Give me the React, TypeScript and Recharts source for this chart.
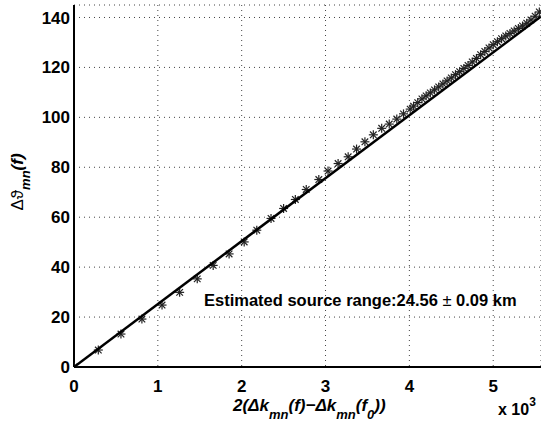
import { ScatterChart, Scatter, XAxis, YAxis, CartesianGrid } from 'recharts';

// star markers (x in units of 10^3, y in degrees)
const STAR_X = [
  0, 0.29, 0.56, 0.81, 1.05, 1.26, 1.47, 1.66, 1.85, 2.03, 2.18, 2.35, 2.5, 2.64, 2.77, 2.92,
  3.03, 3.15, 3.27, 3.37, 3.47, 3.57, 3.67, 3.76, 3.85, 3.93, 4.01, 4.05, 4.1, 4.15, 4.2, 4.25,
  4.3, 4.35, 4.4, 4.45, 4.5, 4.55, 4.6, 4.65, 4.7, 4.75, 4.8, 4.85, 4.9, 4.95, 5.0, 5.05, 5.1,
  5.15, 5.2, 5.25, 5.3, 5.35, 5.4, 5.45, 5.5, 5.55,
];
const STAR_Y = [
  0, 6.8, 13.2, 19.2, 24.8, 29.9, 35.3, 40.7, 45.3, 50.1, 54.8, 59.5, 63.5, 67.1, 71.1, 75.1,
  78.5, 81.5, 84.2, 87.3, 90.2, 93, 95.6, 97.3, 99.3, 101.4, 103.3, 104.5, 105.9, 107.4, 108.6, 109.8,
  111, 112.2, 113.4, 114.6, 115.8, 117.1, 118.3, 119.6, 120.8, 122.2, 123.6, 125.1, 126.4, 127.8, 129.1, 130.3, 131.5,
  132.6, 133.6, 134.6, 135.6, 136.6, 137.7, 139, 140.5, 142.2,
];

// fitted straight line
const FIT_X = [0, 5.57];
const FIT_Y = [0, 140.4];

const X_TICKS = [0, 1, 2, 3, 4, 5];
const Y_TICKS = [0, 20, 40, 60, 80, 100, 120, 140];
const X_MAX = 5.57;
const Y_MAX = 145;

const stars = STAR_X.map((x, i) => ({ x, y: STAR_Y[i] }));
const fit = FIT_X.map((x, i) => ({ x, y: FIT_Y[i] }));

const FONT = '"Liberation Sans", Arial, Helvetica, sans-serif';

function Star(props: any) {
  const { cx, cy } = props;
  if (cx == null || cy == null) return null;
  const r = 4.5;
  const d = 3.3;
  return (
    <g stroke="#222" strokeWidth={1.2}>
      <line x1={cx - r} y1={cy} x2={cx + r} y2={cy} />
      <line x1={cx} y1={cy - r} x2={cx} y2={cy + r} />
      <line x1={cx - d} y1={cy - d} x2={cx + d} y2={cy + d} />
      <line x1={cx - d} y1={cy + d} x2={cx + d} y2={cy - d} />
    </g>
  );
}

export default function App() {
  const tickStyle = { fontSize: 17, fontWeight: 700, fill: '#000', fontFamily: FONT };
  return (
    <div style={{ position: 'absolute', left: 0, top: 0, width: 541, height: 423, background: '#fff' }}>
      <ScatterChart width={541} height={423} margin={{ top: 5, right: 0, bottom: 0, left: 0 }}>
        <CartesianGrid stroke="#444" strokeDasharray="1 4" />
        <XAxis
          type="number"
          dataKey="x"
          domain={[0, X_MAX]}
          ticks={X_TICKS}
          allowDataOverflow
          height={56}
          tickSize={0}
          tickMargin={13}
          tick={tickStyle}
          axisLine={{ stroke: '#000', strokeWidth: 2 }}
        />
        <XAxis
          xAxisId="top"
          orientation="top"
          type="number"
          domain={[0, X_MAX]}
          ticks={X_TICKS}
          allowDataOverflow
          height={0}
          mirror
          tickSize={5}
          tickFormatter={() => ''}
          tickLine={{ stroke: '#000' }}
          axisLine={{ stroke: '#000', strokeWidth: 2 }}
        />
        <YAxis
          type="number"
          dataKey="y"
          domain={[0, Y_MAX]}
          ticks={Y_TICKS}
          allowDataOverflow
          width={74}
          tickSize={0}
          tickMargin={4}
          tick={tickStyle}
          axisLine={{ stroke: '#000', strokeWidth: 2 }}
        />
        <Scatter data={stars} shape={<Star />} isAnimationActive={false} />
        <Scatter
          data={fit}
          line={{ stroke: '#000', strokeWidth: 2.5 }}
          shape={() => <g />}
          isAnimationActive={false}
        />
      </ScatterChart>
      <svg
        width={541}
        height={423}
        style={{ position: 'absolute', left: 0, top: 0, pointerEvents: 'none' }}
        fontFamily={FONT}
      >
        {/* annotation */}
        <text x={204} y={306} fontSize={16.5} fontWeight={700} fill="#000">
          Estimated source range:24.56 <tspan fontWeight={400}>±</tspan> 0.09 km
        </text>
        {/* x-axis title */}
        <text x={233} y={411} fontSize={17} fontWeight={700} fontStyle="italic" fill="#000">
          2(Δk
          <tspan fontSize={13} dy={8}>mn</tspan>
          <tspan dy={-8}>(f)−Δk</tspan>
          <tspan fontSize={13} dy={8}>mn</tspan>
          <tspan dy={-8}>(f</tspan>
          <tspan fontSize={13} dy={8}>0</tspan>
          <tspan dy={-8}>))</tspan>
        </text>
        {/* exponent */}
        <text x={498} y={415} fontSize={16} fontWeight={700} fill="#000">
          x 10<tspan fontSize={12} dy={-9}>3</tspan>
        </text>
        {/* y-axis title */}
        <text
          transform="translate(23,182) rotate(-90)"
          textAnchor="middle"
          fontSize={17}
          fill="#000"
        >
          Δϑ
          <tspan fontSize={13} dy={7} fontWeight={700} fontStyle="italic">mn</tspan>
          <tspan dy={-7} fontWeight={700} fontStyle="italic">(f)</tspan>
        </text>
      </svg>
    </div>
  );
}
